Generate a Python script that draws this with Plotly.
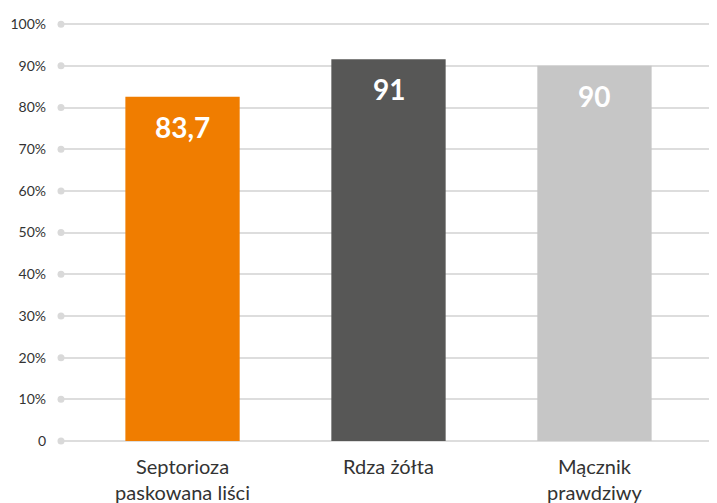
import plotly.graph_objects as go

categories = ["Septorioza<br>paskowana liści", "Rdza żółta", "Mącznik<br>prawdziwy"]
bar_heights = [82.6, 91.6, 90.0]
bar_labels = ["83,7", "91", "90"]
bar_colors = ["#F07D00", "#575756", "#C6C6C6"]
tick_values = [0, 10, 20, 30, 40, 50, 60, 70, 80, 90, 100]
tick_labels = ["0", "10%", "20%", "30%", "40%", "50%", "60%", "70%", "80%", "90%", "100%"]

FONT = "Lato, 'Open Sans', sans-serif"
X_RANGE = [-0.59, 2.59]


def main():
    fig = go.Figure()
    fig.add_trace(go.Bar(
        x=list(range(len(categories))),
        y=bar_heights,
        marker=dict(color=bar_colors, line=dict(width=0)),
        width=0.555,
        hoverinfo="skip",
    ))

    # small dots at both ends of each gridline
    for xe in X_RANGE:
        fig.add_trace(go.Scatter(
            x=[xe] * len(tick_values), y=tick_values,
            mode="markers", cliponaxis=False, hoverinfo="skip",
            marker=dict(size=7, color="#D9D9D9"),
        ))

    # value labels sit inside the top of each bar
    for i, (h, lab) in enumerate(zip(bar_heights, bar_labels)):
        fig.add_annotation(
            x=i, y=h, text="<b>" + lab + "</b>",
            showarrow=False, yanchor="middle", yshift=-30,
            font=dict(family=FONT, size=28, color="white"),
        )

    # page body has an 8px margin, so the figure is 8px smaller
    fig.update_layout(
        width=709, height=495,
        margin=dict(l=53, r=1, t=12, b=62),
        paper_bgcolor="white", plot_bgcolor="white",
        showlegend=False,
        font=dict(family=FONT, size=20, color="#333333"),
        xaxis=dict(
            range=X_RANGE,
            tickvals=list(range(len(categories))), ticktext=categories,
            showgrid=False, zeroline=False, showline=False,
            ticks="", tickfont=dict(size=20, color="#333333"),
            ticklabelstandoff=12, automargin=False,
        ),
        yaxis=dict(
            range=[0, 101],
            tickvals=tick_values, ticktext=tick_labels,
            showgrid=True, gridcolor="#DDDDDD", gridwidth=2,
            zeroline=True, zerolinecolor="#DDDDDD", zerolinewidth=2,
            showline=False, ticks="",
            tickfont=dict(size=14, color="#333333"),
            ticklabelstandoff=14, automargin=False,
        ),
    )
    fig.write_html("out.html")


if __name__ == '__main__':
    main()
